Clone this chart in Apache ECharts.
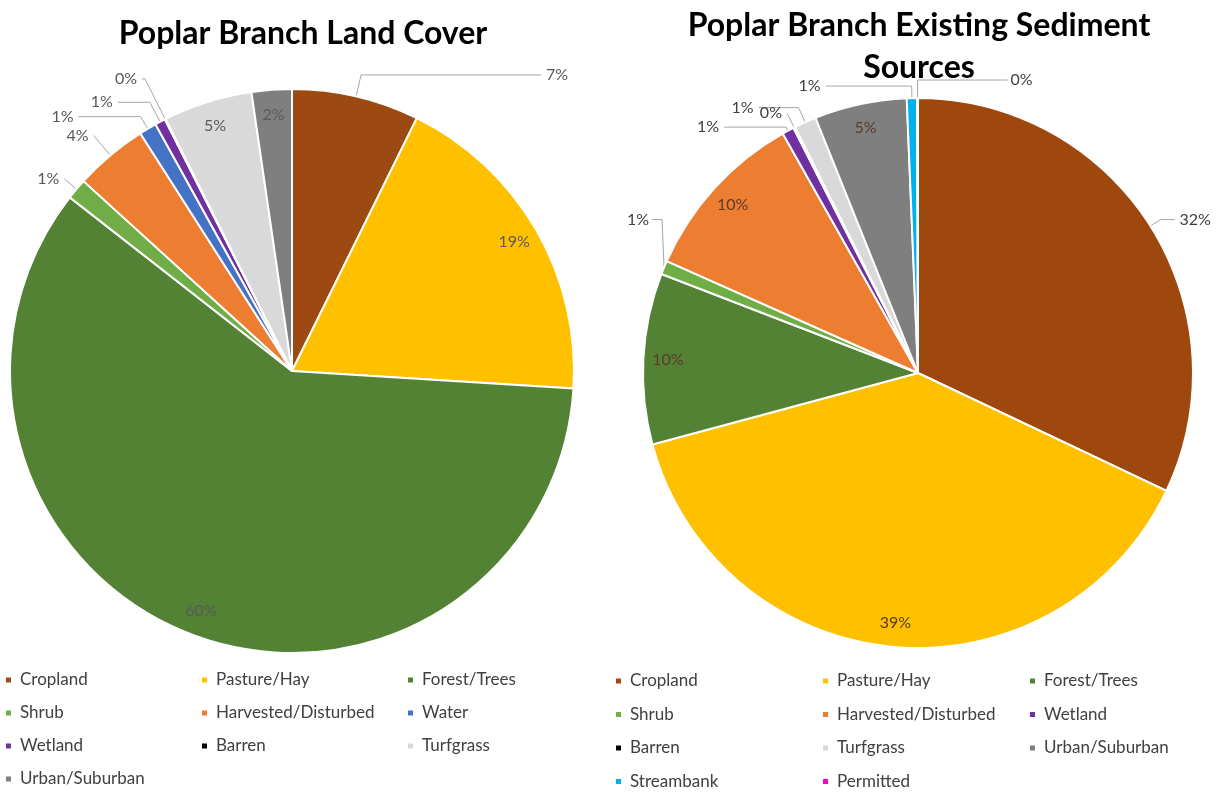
<!DOCTYPE html>
<html><head><meta charset="utf-8">
<script src="https://cdn.jsdelivr.net/npm/echarts@6/dist/echarts.min.js"></script>
<style>html,body{margin:0;padding:0;background:#fff}#c{width:1225px;height:793px}</style>
</head><body><div id="c"></div>
<script>
// ---- data ----
const landTitle = 'Poplar Branch Land Cover';
const landCategories = ['Cropland','Pasture/Hay','Forest/Trees','Shrub','Harvested/Disturbed','Water','Wetland','Barren','Turfgrass','Urban/Suburban'];
const landValues = [7.3, 18.7, 59.6, 1.2, 4.2, 1.0, 0.6, 0.05, 5.1, 2.3];
const landColors = ['#9C4A12','#FFC000','#548235','#70AD47','#ED7D31','#4472C4','#7030A0','#000000','#D9D9D9','#7F7F7F'];
const landOutside = ['Cropland','Shrub','Harvested/Disturbed','Water','Wetland','Barren'];

const sedTitle = 'Poplar Branch Existing Sediment\nSources';
const sedCategories = ['Cropland','Pasture/Hay','Forest/Trees','Shrub','Harvested/Disturbed','Wetland','Barren','Turfgrass','Urban/Suburban','Streambank','Permitted'];
const sedValues = [31.9, 38.6, 10.0, 0.8, 10.1, 0.7, 0.1, 1.3, 5.4, 0.6, 0.05];
const sedColors = ['#9E480E','#FFC000','#548235','#70AD47','#ED7D31','#7030A0','#000000','#D9D9D9','#7F7F7F','#00B0F0','#FF00CC'];
const sedOutside = ['Cropland','Shrub','Wetland','Barren','Turfgrass','Streambank','Permitted'];

// ---- helpers ----
const FONT = 'Lato, "Open Sans", sans-serif';
function pct(vals, i){ const s = vals.reduce((a,b)=>a+b,0); return Math.round(vals[i]/s*100)+'%'; }

function mainSeries(cats, vals, cols, outside, center, r, labelColor, lineOpts){
  return {
    type:'pie', center:center, radius:[0,r], startAngle:90, clockwise:true,
    avoidLabelOverlap:false, silent:true,
    itemStyle:{borderColor:'#fff', borderWidth:2},
    emphasis:{disabled:true},
    data: cats.map((c,i)=>{
      const out = outside.indexOf(c) >= 0;
      const lo = lineOpts[c] || {length:12, length2:10};
      return {
        name:c, value:vals[i], itemStyle:{color:cols[i]},
        label:{show:out, position:'outside', color:labelColor, fontSize:16, fontFamily:FONT,
               formatter:()=>pct(vals,i)},
        labelLine:{show:out, length:lo.length, length2:lo.length2, lineStyle:{color:'#a6a6a6', width:1}}
      };
    })
  };
}
function overlaySeries(cats, vals, outside, center, r, labelColor){
  return {
    type:'pie', center:center, radius:[r*0.8, r], startAngle:90, clockwise:true,
    silent:true, emphasis:{disabled:true}, avoidLabelOverlap:false,
    itemStyle:{color:'rgba(0,0,0,0)', borderWidth:0},
    data: cats.map((c,i)=>({
      value:vals[i],
      label:{show: outside.indexOf(c) < 0, position:'inside', color:labelColor, fontSize:16, fontFamily:FONT,
             formatter:()=>pct(vals,i)},
      labelLine:{show:false}
    }))
  };
}
function legends(cats, cols, xs, top, pitch){
  return [0,1,2].map(k=>({
    orient:'vertical', left:xs[k], top:top, padding:0, itemWidth:7, itemHeight:7, itemGap:pitch-20,
    icon:'rect', selectedMode:false,
    textStyle:{fontSize:17, fontFamily:FONT, color:'#404040', lineHeight:20, padding:[0,0,0,3]},
    data: cats.map((c,i)=>({name:c, itemStyle:{color:cols[i]}})).filter((d,i)=>i%3===k)
  }));
}

const landLines = {
  'Cropland':{length:22, length2:180},
  'Shrub':{length:16, length2:0},
  'Harvested/Disturbed':{length:26, length2:0},
  'Water':{length:14, length2:62},
  'Wetland':{length:22, length2:32},
  'Barren':{length:45, length2:3}
};
const sedLines = {
  'Cropland':{length:12, length2:14},
  'Shrub':{length:10, length2:6},
  'Wetland':{length:4, length2:62},
  'Barren':{length:16, length2:0},
  'Turfgrass':{length:16, length2:40},
  'Streambank':{length:12, length2:86},
  'Permitted':{length:18, length2:90}
};
const sedMirrored = ['Permitted'];   // label drawn on the right side of the top
const sedRaised = {'Shrub':-48};     // label lifted straight above its slice

function sedLabelLayout(p){
  const name = sedCategories[p.dataIndex];
  const pts0 = p.labelLinePoints;
  if (!pts0) return {};
  if (sedMirrored.indexOf(name) >= 0){
    const x0 = pts0[0][0];
    const pts = pts0.map(q=>[2*x0-q[0], q[1]]);
    const end = pts[pts.length-1];
    return {x:end[0]+3, y:end[1], align:'left', verticalAlign:'middle', labelLinePoints:pts};
  }
  if (sedRaised[name] != null){
    const a = pts0[0];
    const y = a[1] + sedRaised[name];
    const pts = [a, [a[0]-2, y], [a[0]-12, y]];
    return {x:a[0]-15, y:y, align:'right', verticalAlign:'middle', labelLinePoints:pts};
  }
  return {};
}

const chart = echarts.init(document.getElementById('c'));
const landS = mainSeries(landCategories, landValues, landColors, landOutside, [292,371], 282, '#595959', landLines);
const sedS = mainSeries(sedCategories, sedValues, sedColors, sedOutside, [918,373], 275, '#404040', sedLines);
sedS.labelLayout = sedLabelLayout;
chart.setOption({
  backgroundColor:'#fff',
  animation:false,
  title:[
    {text:landTitle, left:298, top:13, textAlign:'center',
     textStyle:{fontSize:32, fontWeight:'bold', fontFamily:FONT, color:'#000'}},
    {text:sedTitle, left:914, top:0, textAlign:'center',
     textStyle:{fontSize:32, fontWeight:'bold', fontFamily:FONT, color:'#000', lineHeight:42}}
  ],
  legend: legends(landCategories, landColors, [4, 200, 406], 670, 33)
          .concat(legends(sedCategories, sedColors, [614, 821, 1028], 671, 33.5)),
  series:[
    landS, sedS,
    overlaySeries(landCategories, landValues, landOutside, [292,371], 282, '#595959'),
    overlaySeries(sedCategories, sedValues, sedOutside, [918,373], 275, '#5a3a2a')
  ]
});
</script></body></html>
